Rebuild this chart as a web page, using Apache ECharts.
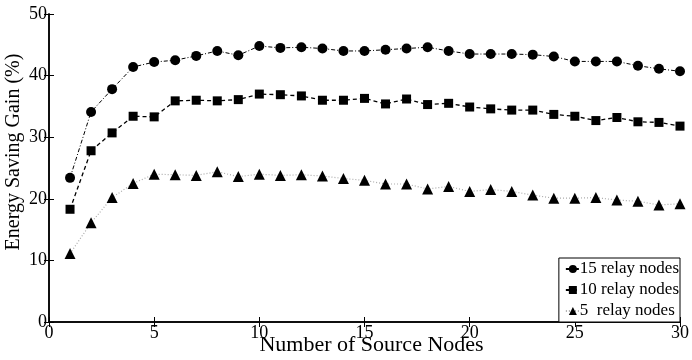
<!DOCTYPE html>
<html>
<head>
<meta charset="utf-8">
<script src="https://cdn.jsdelivr.net/npm/echarts@6/dist/echarts.min.js"></script>
<style>html,body{margin:0;padding:0;background:#fff}#c{width:692px;height:360px}</style>
</head>
<body>
<div id="c"></div>
<script>
const sourceNodes = [1,2,3,4,5,6,7,8,9,10,11,12,13,14,15,16,17,18,19,20,21,22,23,24,25,26,27,28,29,30];
const relay15 = [23.4,34.1,37.8,41.4,42.2,42.5,43.2,44.0,43.3,44.8,44.5,44.6,44.4,44.0,44.0,44.2,44.4,44.6,44.0,43.5,43.5,43.5,43.4,43.1,42.3,42.3,42.3,41.6,41.1,40.7];
const relay10 = [18.3,27.8,30.7,33.4,33.3,35.9,36.0,35.9,36.1,37.0,36.9,36.7,36.0,36.0,36.3,35.4,36.2,35.3,35.5,34.9,34.6,34.4,34.4,33.7,33.4,32.7,33.2,32.5,32.4,31.8];
const relay5 = [11.1,16.1,20.2,22.5,24.0,23.9,23.8,24.4,23.6,24.0,23.8,23.9,23.7,23.3,23.0,22.4,22.4,21.6,22.0,21.2,21.5,21.2,20.6,20.1,20.1,20.2,19.8,19.6,19.0,19.2];
const seriesNames = ['15 relay nodes','10 relay nodes','5  relay nodes'];
const xTitle = 'Number of Source Nodes';
const yTitle = 'Energy Saving Gain (%)';

const font = 'Liberation Serif';
const pairs = arr => sourceNodes.map((x,i)=>[x,arr[i]]);
const chart = echarts.init(document.getElementById('c'));
const axisLine = {show:true, lineStyle:{color:'#000', width:1.5}};
const tick = {show:true, inside:true, length:5, lineStyle:{color:'#000', width:1}};
chart.setOption({
  animation:false,
  grid:{left:49, right:12, top:14, bottom:38, containLabel:false, outerBoundsMode:'none'},
  xAxis:[{type:'value', min:0, max:30, interval:5, axisLine, axisTick:tick,
    splitLine:{show:false}, axisLabel:{color:'#000', fontFamily:font, fontSize:18, margin:2},
    name:xTitle, nameLocation:'middle', nameGap:12, nameMoveOverlap:false,
    nameTextStyle:{color:'#000', fontFamily:font, fontSize:22, padding:[0,0,0,14]}},
    {type:'value', position:'top', min:0, max:30, interval:5, axisLine, axisTick:tick,
    splitLine:{show:false}, axisLabel:{show:false}}],
  yAxis:[{type:'value', min:0, max:50, interval:10, axisLine, axisTick:tick,
    splitLine:{show:false}, axisLabel:{color:'#000', fontFamily:font, fontSize:18, margin:2},
    name:yTitle, nameLocation:'middle', nameGap:25, nameMoveOverlap:false,
    nameTextStyle:{color:'#000', fontFamily:font, fontSize:20, padding:[0,0,0,32]}},
    {type:'value', position:'right', min:0, max:50, interval:10, axisLine, axisTick:tick,
    splitLine:{show:false}, axisLabel:{show:false}}],
  legend:{orient:'vertical', right:12, bottom:38, backgroundColor:'#fff',
    borderColor:'#000', borderWidth:1, borderRadius:0, padding:[1,1,1,6], itemGap:1,
    itemWidth:14, itemHeight:10,
    textStyle:{color:'#000', fontFamily:font, fontSize:17, lineHeight:20, padding:[0,0,0,-5]},
    data:seriesNames},
  series:[
    {name:seriesNames[0], type:'line', data:pairs(relay15), symbol:'circle', symbolSize:10,
     itemStyle:{color:'#000'}, lineStyle:{color:'#000', width:1, type:[4,2,1,2]}},
    {name:seriesNames[1], type:'line', data:pairs(relay10), symbol:'rect', symbolSize:9,
     itemStyle:{color:'#000'}, lineStyle:{color:'#000', width:1.3, type:[4,3]}},
    {name:seriesNames[2], type:'line', data:pairs(relay5), symbol:'triangle', symbolSize:11,
     itemStyle:{color:'#000'}, lineStyle:{color:'#aaa', width:1.2, type:[1,2]}}
  ]
});
</script>
</body>
</html>
